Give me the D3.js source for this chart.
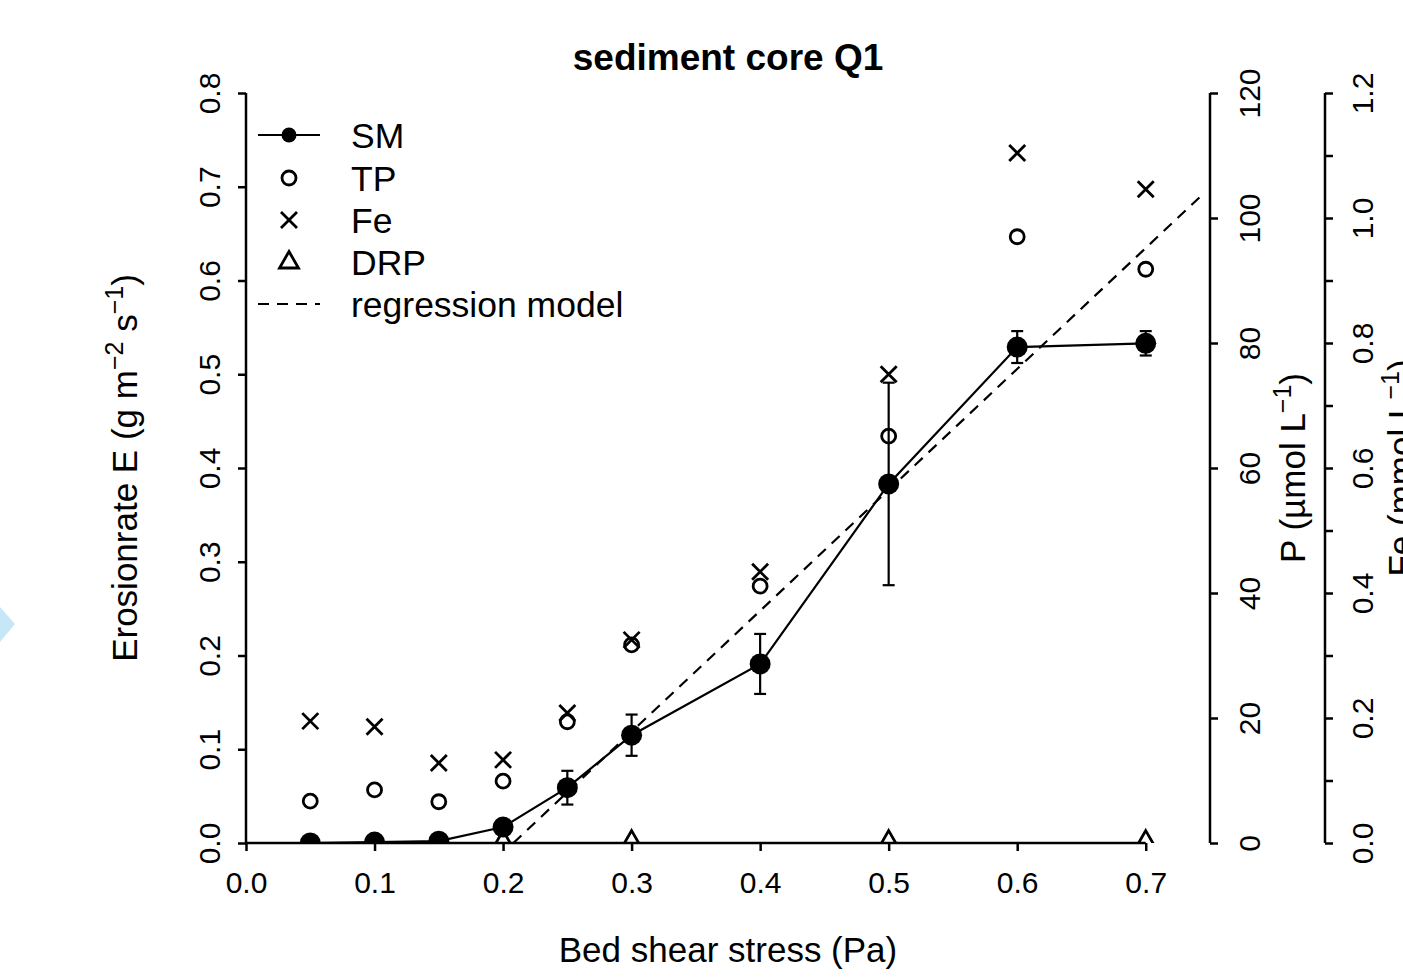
<!DOCTYPE html>
<html>
<head>
<meta charset="utf-8">
<script src="https://cdn.jsdelivr.net/npm/d3@7"></script>
<style>
  body { margin: 0; background: #fff; }
  svg { display: block; font-family: "Liberation Sans", Arial, sans-serif; }
</style>
</head>
<body>
<div class="chart-container"></div>
<script>
// bed shear stress steps (Pa)
const shear = [0.05, 0.1, 0.15, 0.2, 0.25, 0.3, 0.4, 0.5, 0.6, 0.7]
// erosion rate of suspended matter, g m-2 s-1 (mean and error)
const smMean = [0.000, 0.001, 0.002, 0.017, 0.059, 0.115, 0.191, 0.383, 0.529, 0.533]
const smErr = [0, 0, 0, 0, 0.018, 0.022, 0.032, 0.108, 0.017, 0.013]
// total P, umol/L
const tpValues = [6.7, 8.5, 6.6, 9.9, 19.4, 31.7, 41.1, 65.1, 97.0, 91.8]
// Fe, mmol/L
const feValues = [0.195, 0.186, 0.128, 0.133, 0.208, 0.325, 0.434, 0.750, 1.104, 1.046]
// dissolved reactive P, umol/L
const drpShear = [0.2, 0.3, 0.5, 0.7]
const drpValues = [0.3, 0.3, 0.3, 0.3]
// regression model end points
const regShear = [0.208, 0.746]
const regE = [0, 0.694]

const xTicks = [0, 0.1, 0.2, 0.3, 0.4, 0.5, 0.6, 0.7]
const eTicks = [0, 0.1, 0.2, 0.3, 0.4, 0.5, 0.6, 0.7, 0.8]
const pTicks = [0, 20, 40, 60, 80, 100, 120]
const feTicks = [0, 0.1, 0.2, 0.3, 0.4, 0.5, 0.6, 0.7, 0.8, 0.9, 1.0, 1.1, 1.2]
const legendNames = ['SM', 'TP', 'Fe', 'DRP', 'regression model']

const width = 1403
const height = 979
const plotLeft = 246, plotRight = 1210, plotTop = 93, plotBottom = 843

const svg = d3.select('.chart-container')
  .append('svg')
  .attr('width', width)
  .attr('height', height)

const x = d3.scaleLinear().domain([0, 0.75]).range([plotLeft, plotRight])
const yE = d3.scaleLinear().domain([0, 0.8]).range([plotBottom, plotTop])
const yP = d3.scaleLinear().domain([0, 120]).range([plotBottom, plotTop])
const yFe = d3.scaleLinear().domain([0, 1.2]).range([plotBottom, plotTop])

// little blue marker at the left edge
svg.append('polygon')
  .attr('points', '0,607 15,624 0,642')
  .attr('fill', '#c6e7f8')

svg.append('defs').append('clipPath').attr('id', 'plot-clip')
  .append('rect')
  .attr('x', plotLeft).attr('y', plotTop)
  .attr('width', plotRight - plotLeft).attr('height', plotBottom - plotTop)

const axisColor = '#000'
function styleAxis(g) {
  g.select('.domain').remove()
  g.selectAll('.tick line').attr('stroke', axisColor).attr('stroke-width', 2.5)
  g.selectAll('.tick text').attr('fill', '#000').attr('font-size', 30)
    .attr('font-family', '"Liberation Sans", Arial, sans-serif')
}

// x axis
const gx = svg.append('g')
  .attr('transform', `translate(0,${plotBottom})`)
  .call(d3.axisBottom(x).tickValues(xTicks).tickSize(8).tickSizeOuter(0).tickFormat(d3.format('.1f')))
gx.call(styleAxis)
gx.selectAll('.tick text').attr('y', 50).attr('dy', 0)
gx.append('line')
  .attr('x1', x(0)).attr('x2', x(0.7))
  .attr('stroke', axisColor).attr('stroke-width', 2.5)

// left axis: erosion rate
const gy = svg.append('g')
  .attr('transform', `translate(${plotLeft},0)`)
  .call(d3.axisLeft(yE).tickValues(eTicks).tickSize(8).tickSizeOuter(0).tickFormat(d3.format('.1f')))
gy.call(styleAxis)
gy.selectAll('.tick text')
  .attr('transform', 'rotate(-90)')
  .attr('x', 0).attr('y', -26).attr('dy', 0)
  .attr('text-anchor', 'middle')
gy.append('line')
  .attr('y1', yE(0)).attr('y2', yE(0.8))
  .attr('stroke', axisColor).attr('stroke-width', 2.5)

// right axis: P
const pAxisX = 1210
const gp = svg.append('g')
  .attr('transform', `translate(${pAxisX},0)`)
  .call(d3.axisRight(yP).tickValues(pTicks).tickSize(8).tickSizeOuter(0).tickFormat(d3.format('d')))
gp.call(styleAxis)
gp.selectAll('.tick text')
  .attr('transform', 'rotate(-90)')
  .attr('x', 0).attr('y', 50).attr('dy', 0)
  .attr('text-anchor', 'middle')
gp.append('line')
  .attr('y1', yP(0)).attr('y2', yP(120))
  .attr('stroke', axisColor).attr('stroke-width', 2.5)

// second right axis: Fe
const feAxisX = 1325
const gfe = svg.append('g')
  .attr('transform', `translate(${feAxisX},0)`)
  .call(d3.axisRight(yFe).tickValues(feTicks).tickSize(8).tickSizeOuter(0)
    .tickFormat((d) => (Math.round(d * 10) % 2 === 0 ? d3.format('.1f')(d) : '')))
gfe.call(styleAxis)
gfe.selectAll('.tick text')
  .attr('transform', 'rotate(-90)')
  .attr('x', 0).attr('y', 48).attr('dy', 0)
  .attr('text-anchor', 'middle')
gfe.append('line')
  .attr('y1', yFe(0)).attr('y2', yFe(1.2))
  .attr('stroke', axisColor).attr('stroke-width', 2.5)

// titles
svg.append('text')
  .attr('x', (plotLeft + plotRight) / 2).attr('y', 70)
  .attr('text-anchor', 'middle')
  .attr('font-size', 37).attr('font-weight', 'bold')
  .text('sediment core Q1')

svg.append('text')
  .attr('x', (plotLeft + plotRight) / 2).attr('y', 962)
  .attr('text-anchor', 'middle')
  .attr('font-size', 35)
  .text('Bed shear stress (Pa)')

function rotatedLabel(xx, parts) {
  const t = svg.append('text')
    .attr('transform', `translate(${xx},${(plotTop + plotBottom) / 2}) rotate(-90)`)
    .attr('text-anchor', 'middle')
    .attr('font-size', 35)
  parts.forEach((p) => {
    const s = t.append('tspan').text(p.t)
    if (p.sup) {
      s.attr('font-size', 25).attr('dy', -14)
    } else if (p.after) {
      s.attr('dy', 14)
    }
  })
}
rotatedLabel(137, [
  { t: 'Erosionrate E (g m' }, { t: '\u22122', sup: true },
  { t: ' s', after: true }, { t: '\u22121', sup: true }, { t: ')', after: true },
])
rotatedLabel(1305, [
  { t: 'P (\u00b5mol L' }, { t: '\u22121', sup: true }, { t: ')', after: true },
])
// runs off the right edge, as in the original figure
rotatedLabel(1413, [
  { t: 'Fe (mmol L' }, { t: '\u22121', sup: true }, { t: ')', after: true },
])

// plotting area
const plot = svg.append('g').attr('clip-path', 'url(#plot-clip)')

// regression model
plot.append('path')
  .datum(regShear.map((s, i) => [s, regE[i]]))
  .attr('fill', 'none').attr('stroke', '#000')
  .attr('stroke-width', 2.2).attr('stroke-dasharray', '11,8')
  .attr('d', d3.line().x((d) => x(d[0])).y((d) => yE(d[1])))

// SM line
const smData = shear.map((s, i) => ({ s, m: smMean[i], e: smErr[i] }))
plot.append('path')
  .datum(smData)
  .attr('fill', 'none').attr('stroke', '#000').attr('stroke-width', 2.2)
  .attr('d', d3.line().x((d) => x(d.s)).y((d) => yE(d.m)))

// error bars
const bars = plot.selectAll('.err')
  .data(smData.filter((d) => d.e > 0))
  .enter().append('g').attr('class', 'err')
bars.append('line')
  .attr('x1', (d) => x(d.s)).attr('x2', (d) => x(d.s))
  .attr('y1', (d) => yE(d.m - d.e)).attr('y2', (d) => yE(d.m + d.e))
  .attr('stroke', '#000').attr('stroke-width', 2.2)
;[-1, 1].forEach((sign) => {
  bars.append('line')
    .attr('x1', (d) => x(d.s) - 6).attr('x2', (d) => x(d.s) + 6)
    .attr('y1', (d) => yE(d.m + sign * d.e)).attr('y2', (d) => yE(d.m + sign * d.e))
    .attr('stroke', '#000').attr('stroke-width', 2.2)
})

// SM points
plot.selectAll('.sm')
  .data(smData)
  .enter().append('circle')
  .attr('class', 'sm')
  .attr('cx', (d) => x(d.s)).attr('cy', (d) => yE(d.m))
  .attr('r', 10.5).attr('fill', '#000')

// TP points
plot.selectAll('.tp')
  .data(shear.map((s, i) => ({ s, v: tpValues[i] })))
  .enter().append('circle')
  .attr('class', 'tp')
  .attr('cx', (d) => x(d.s)).attr('cy', (d) => yP(d.v))
  .attr('r', 7).attr('fill', 'none').attr('stroke', '#000').attr('stroke-width', 2.8)

// Fe points
const crossPath = 'M-8,-8L8,8M-8,8L8,-8'
plot.selectAll('.fe')
  .data(shear.map((s, i) => ({ s, v: feValues[i] })))
  .enter().append('path')
  .attr('class', 'fe')
  .attr('transform', (d) => `translate(${x(d.s)},${yFe(d.v)})`)
  .attr('d', crossPath)
  .attr('fill', 'none').attr('stroke', '#000').attr('stroke-width', 2.8)

// DRP points
const triPath = 'M0,-10.5L9.5,6L-9.5,6Z'
plot.selectAll('.drp')
  .data(drpShear.map((s, i) => ({ s, v: drpValues[i] })))
  .enter().append('path')
  .attr('class', 'drp')
  .attr('transform', (d) => `translate(${x(d.s)},${yP(d.v)})`)
  .attr('d', triPath)
  .attr('fill', 'none').attr('stroke', '#000').attr('stroke-width', 2.8)

// legend
const legend = svg.append('g').attr('class', 'legend')
const rowY = [135, 178, 220, 262, 304]
legendNames.forEach((name, i) => {
  const yy = rowY[i]
  legend.append('text')
    .attr('x', 351).attr('y', yy + 13)
    .attr('font-size', 35.5)
    .text(name)
})
legend.append('line')
  .attr('x1', 258).attr('x2', 320).attr('y1', rowY[0]).attr('y2', rowY[0])
  .attr('stroke', '#000').attr('stroke-width', 2.2)
legend.append('circle')
  .attr('cx', 289).attr('cy', rowY[0]).attr('r', 7.5).attr('fill', '#000')
legend.append('circle')
  .attr('cx', 289).attr('cy', rowY[1]).attr('r', 7)
  .attr('fill', 'none').attr('stroke', '#000').attr('stroke-width', 2.8)
legend.append('path')
  .attr('transform', `translate(289,${rowY[2]})`).attr('d', crossPath)
  .attr('fill', 'none').attr('stroke', '#000').attr('stroke-width', 2.8)
legend.append('path')
  .attr('transform', `translate(289,${rowY[3]})`).attr('d', triPath)
  .attr('fill', 'none').attr('stroke', '#000').attr('stroke-width', 2.8)
legend.append('line')
  .attr('x1', 258).attr('x2', 320).attr('y1', rowY[4]).attr('y2', rowY[4])
  .attr('stroke', '#000').attr('stroke-width', 2.2).attr('stroke-dasharray', '11,8')
</script>
</body>
</html>
